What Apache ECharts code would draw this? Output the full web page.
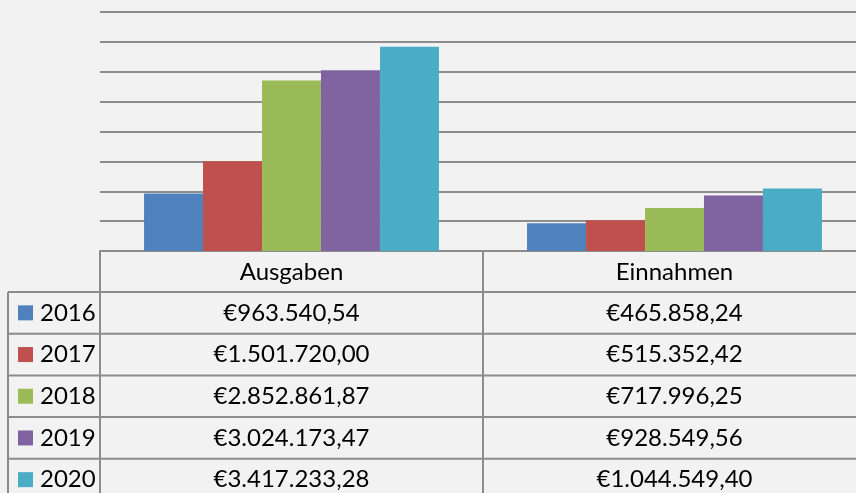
<!DOCTYPE html>
<html>
<head>
<meta charset="utf-8">
<script src="https://cdn.jsdelivr.net/npm/echarts@6/dist/echarts.min.js"></script>
<style>
  html, body { margin: 0; padding: 0; background: #f2f2f2; }
  #chart { width: 856px; height: 493px; }
</style>
</head>
<body>
<div id="chart"></div>
<script>
const categories = ['Ausgaben', 'Einnahmen'];
const years = ['2016', '2017', '2018', '2019', '2020'];
const ausgaben = [963540.54, 1501720.00, 2852861.87, 3024173.47, 3417233.28];
const einnahmen = [465858.24, 515352.42, 717996.25, 928549.56, 1044549.40];
const colors = ['#4f81bd', '#c0504d', '#9bbb59', '#8064a2', '#4bacc6'];

const lineColor = '#8c8c8c';
const font = '24px Lato, "Open Sans", sans-serif';

function eur(v) {
  const parts = v.toFixed(2).split('.');
  return '€' + parts[0].replace(/\B(?=(\d{3})+(?!\d))/g, '.') + ',' + parts[1];
}

const chart = echarts.init(document.getElementById('chart'));

chart.setOption({
  backgroundColor: '#f2f2f2',
  animation: false,
  grid: { left: 100, top: 12, right: -10, height: 239, outerBoundsMode: 'none', containLabel: false },
  xAxis: {
    type: 'category',
    data: categories,
    axisLine: { show: true, lineStyle: { color: lineColor, width: 2 } },
    axisTick: { show: false },
    axisLabel: { show: false }
  },
  yAxis: {
    type: 'value',
    min: 0,
    max: 4000000,
    interval: 500000,
    axisLine: { show: false },
    axisTick: { show: false },
    axisLabel: { show: false },
    splitLine: { lineStyle: { color: lineColor, width: 2 } }
  },
  series: years.map((y, i) => ({
    name: y,
    type: 'bar',
    barGap: '0%',
    barCategoryGap: '23%',
    itemStyle: { color: colors[i] },
    data: [ausgaben[i], einnahmen[i]]
  }))
});

// data table below the plot, laid out from the category axis
const c0 = chart.convertToPixel({ xAxisIndex: 0 }, categories[0]);
const c1 = chart.convertToPixel({ xAxisIndex: 0 }, categories[1]);
const band = c1 - c0;
const tableTop = 251;
const headH = 41;
const rowH = 41.7;
const leftX = 8;
const plotLeft = c0 - band / 2;
const bottom = 520;

const graphic = [];
function line(x1, y1, x2, y2) {
  graphic.push({
    type: 'line',
    shape: { x1, y1, x2, y2 },
    style: { stroke: lineColor, lineWidth: 2 },
    silent: true
  });
}
function text(str, x, y, align) {
  graphic.push({
    type: 'text',
    style: {
      text: str, x, y, fill: '#000', font,
      align: align, textAlign: align,
      verticalAlign: 'middle', textVerticalAlign: 'middle'
    },
    silent: true
  });
}

// vertical lines
line(plotLeft, tableTop, plotLeft, bottom);
line(plotLeft + band, tableTop, plotLeft + band, bottom);
line(plotLeft + 2 * band, tableTop, plotLeft + 2 * band, bottom);
line(leftX, tableTop + headH, leftX, bottom);

// header row
categories.forEach((c, j) => {
  text(c, c0 + j * band, tableTop + headH / 2 + 1, 'center');
});

// year rows
years.forEach((y, i) => {
  const top = tableTop + headH + i * rowH;
  line(leftX, top, 900, top);
  const cy = top + rowH / 2;
  graphic.push({
    type: 'rect',
    shape: { x: 18, y: cy - 7.5, width: 15, height: 15 },
    style: { fill: colors[i] },
    silent: true
  });
  text(y, 40, cy, 'left');
  text(eur(ausgaben[i]), c0, cy, 'center');
  text(eur(einnahmen[i]), c1, cy, 'center');
});

chart.setOption({ graphic: graphic });
</script>
</body>
</html>
